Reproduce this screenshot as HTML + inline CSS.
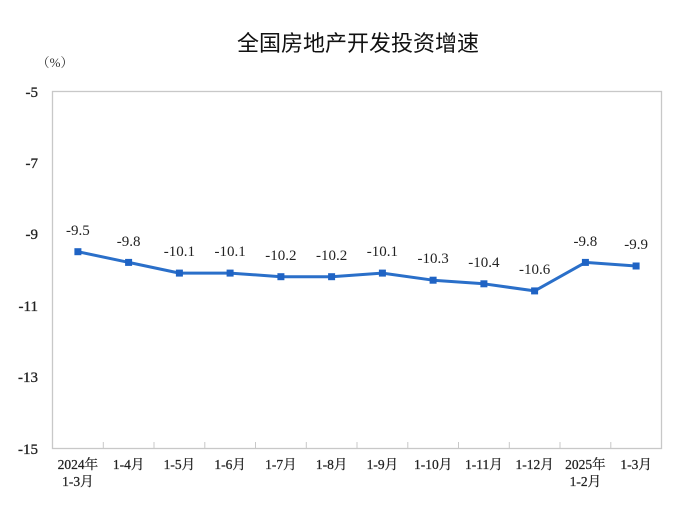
<!DOCTYPE html>
<html><head><meta charset="utf-8"><style>
html,body{margin:0;padding:0;background:#fff;}
svg{display:block;}
text{font-family:"Liberation Serif","Noto Serif CJK SC",serif;fill:#222;}
</style></head><body>
<svg width="692" height="519" viewBox="0 0 692 519">
<text x="358" y="51" text-anchor="middle" style="font-family:'Liberation Sans','Noto Sans CJK SC',sans-serif;font-size:22px;fill:#111">全国房地产开发投资增速</text>
<text x="55" y="67" text-anchor="middle" style="font-size:13px;fill:#333">（%）</text>
<rect x="52.5" y="91.5" width="609" height="357" fill="none" stroke="#c8c8c8" stroke-width="1.3"/>
<g font-size="15" text-anchor="end" stroke="#222" stroke-width="0.3">
<text x="38" y="97">-5</text><text x="38" y="168">-7</text><text x="38" y="239">-9</text>
<text x="38" y="311">-11</text><text x="38" y="382">-13</text><text x="38" y="454">-15</text>
</g>
<g stroke="#c8c8c8" stroke-width="1">
<line x1="103.3" y1="442" x2="103.3" y2="448"/><line x1="154" y1="442" x2="154" y2="448"/>
<line x1="204.8" y1="442" x2="204.8" y2="448"/><line x1="255.5" y1="442" x2="255.5" y2="448"/>
<line x1="306.3" y1="442" x2="306.3" y2="448"/><line x1="357" y1="442" x2="357" y2="448"/>
<line x1="407.8" y1="442" x2="407.8" y2="448"/><line x1="458.5" y1="442" x2="458.5" y2="448"/>
<line x1="509.3" y1="442" x2="509.3" y2="448"/><line x1="560" y1="442" x2="560" y2="448"/>
<line x1="610.8" y1="442" x2="610.8" y2="448"/>
</g>
<g font-size="13.5" text-anchor="middle" stroke="#222" stroke-width="0.25">
<text x="77.9" y="469">2024年</text><text x="77.9" y="486">1-3月</text>
<text x="128.6" y="469">1-4月</text><text x="179.4" y="469">1-5月</text>
<text x="230.1" y="469">1-6月</text><text x="280.9" y="469">1-7月</text>
<text x="331.6" y="469">1-8月</text><text x="382.4" y="469">1-9月</text>
<text x="433.1" y="469">1-10月</text><text x="483.9" y="469">1-11月</text>
<text x="534.6" y="469">1-12月</text>
<text x="585.4" y="469">2025年</text><text x="585.4" y="486">1-2月</text>
<text x="636.1" y="469">1-3月</text>
</g>
<polyline fill="none" stroke="#2a6fc9" stroke-width="3" stroke-linejoin="round"
points="77.9,251.7 128.6,262.4 179.4,273.1 230.1,273.1 280.9,276.7 331.6,276.7 382.4,273.1 433.1,280.2 483.9,283.8 534.6,290.9 585.4,262.4 636.1,266"/>
<g fill="#1f63c4">
<rect x="74.4" y="248.2" width="7" height="7"/><rect x="125.1" y="258.9" width="7" height="7"/>
<rect x="175.9" y="269.6" width="7" height="7"/><rect x="226.6" y="269.6" width="7" height="7"/>
<rect x="277.4" y="273.2" width="7" height="7"/><rect x="328.1" y="273.2" width="7" height="7"/>
<rect x="378.9" y="269.6" width="7" height="7"/><rect x="429.6" y="276.7" width="7" height="7"/>
<rect x="480.4" y="280.3" width="7" height="7"/><rect x="531.1" y="287.4" width="7" height="7"/>
<rect x="581.9" y="258.9" width="7" height="7"/><rect x="632.6" y="262.5" width="7" height="7"/>
</g>
<g font-size="15" text-anchor="middle">
<text x="77.9" y="235">-9.5</text><text x="128.6" y="246">-9.8</text>
<text x="179.4" y="256">-10.1</text><text x="230.1" y="256">-10.1</text>
<text x="280.9" y="260">-10.2</text><text x="331.6" y="260">-10.2</text>
<text x="382.4" y="256">-10.1</text><text x="433.1" y="263">-10.3</text>
<text x="483.9" y="267">-10.4</text><text x="534.6" y="274">-10.6</text>
<text x="585.4" y="246">-9.8</text><text x="636.1" y="249">-9.9</text>
</g>
</svg>
</body></html>
